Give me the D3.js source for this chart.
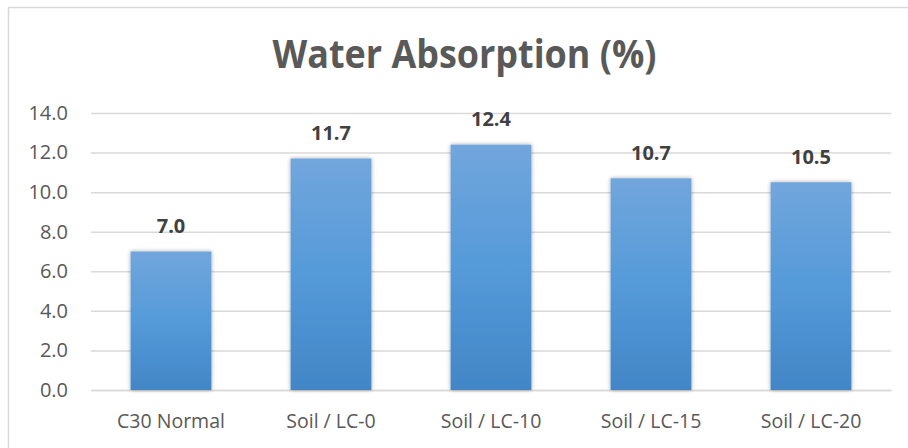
<!DOCTYPE html>
<html>
<head>
<meta charset="utf-8">
<script src="https://cdn.jsdelivr.net/npm/d3@7/dist/d3.min.js"></script>
<style>
  html, body { margin: 0; padding: 0; background: #fff; }
  svg { display: block; }
</style>
</head>
<body>
<svg id="chart" width="908" height="448"></svg>
<script>
// Water absorption by mix
const categories = ["C30 Normal", "Soil / LC-0", "Soil / LC-10", "Soil / LC-15", "Soil / LC-20"];
const absorption = [7.0, 11.7, 12.4, 10.7, 10.5];
const yTicks = [0, 2, 4, 6, 8, 10, 12, 14];
const chartTitle = "Water Absorption (%)";

const svg = d3.select("#chart");
const font = "'Open Sans', 'Noto Sans', sans-serif";

// Outer chart frame
svg.append("rect")
  .attr("x", 8.5).attr("y", 7.5)
  .attr("width", 920).attr("height", 460)
  .attr("fill", "#fff")
  .attr("stroke", "#d9d9d9").attr("stroke-width", 1.5);

const plot = { left: 91, right: 891, top: 113, bottom: 390 };

const x = d3.scaleBand()
  .domain(categories)
  .range([plot.left, plot.right])
  .paddingInner(0.495)
  .paddingOuter(0.2475);

const y = d3.scaleLinear()
  .domain([0, 14])
  .range([plot.bottom, plot.top]);

const defs = svg.append("defs");
const grad = defs.append("linearGradient")
  .attr("id", "barFill").attr("x1", 0).attr("y1", 0).attr("x2", 0).attr("y2", 1);
grad.append("stop").attr("offset", "0%").attr("stop-color", "#71a6dc");
grad.append("stop").attr("offset", "50%").attr("stop-color", "#559ad9");
grad.append("stop").attr("offset", "100%").attr("stop-color", "#4286c6");

const shadow = defs.append("filter").attr("id", "barShadow")
  .attr("x", "-20%").attr("y", "-10%").attr("width", "140%").attr("height", "120%");
shadow.append("feGaussianBlur").attr("in", "SourceAlpha").attr("stdDeviation", 2.2).attr("result", "blur");
shadow.append("feComponentTransfer").attr("in", "blur").attr("result", "soft")
  .append("feFuncA").attr("type", "linear").attr("slope", 0.35);
const merge = shadow.append("feMerge");
merge.append("feMergeNode").attr("in", "soft");
merge.append("feMergeNode").attr("in", "SourceGraphic");

// Gridlines and value axis
const yAxis = d3.axisLeft(y)
  .tickValues(yTicks)
  .tickSize(-(plot.right - plot.left))
  .tickPadding(23)
  .tickFormat(d3.format(".1f"));

const gy = svg.append("g")
  .attr("transform", `translate(${plot.left},0)`)
  .call(yAxis);
gy.select(".domain").remove();
gy.selectAll(".tick line")
  .attr("stroke", "#d9d9d9").attr("stroke-width", 1.5);
gy.selectAll(".tick text")
  .attr("fill", "#595959")
  .style("font-family", font)
  .style("font-size", "20px");

// Category axis
const xAxis = d3.axisBottom(x).tickSize(0).tickPadding(24);
const gx = svg.append("g")
  .attr("transform", `translate(0,${plot.bottom})`)
  .call(xAxis);
gx.select(".domain").attr("stroke", "#d9d9d9").attr("stroke-width", 1.5);
gx.selectAll(".tick text")
  .attr("fill", "#595959")
  .style("font-family", font)
  .style("font-size", "19.5px");

// Bars
svg.append("g").selectAll("rect")
  .data(categories)
  .join("rect")
  .attr("x", d => x(d))
  .attr("width", x.bandwidth())
  .attr("y", (d, i) => y(absorption[i]))
  .attr("height", (d, i) => y(0) - y(absorption[i]))
  .attr("fill", "url(#barFill)")
  .attr("filter", "url(#barShadow)");

// Value labels
svg.append("g").selectAll("text")
  .data(categories)
  .join("text")
  .attr("x", d => x(d) + x.bandwidth() / 2)
  .attr("y", (d, i) => y(absorption[i]) - 18.5)
  .attr("text-anchor", "middle")
  .attr("fill", "#404040")
  .style("font-family", font)
  .style("font-size", "20px")
  .style("font-weight", "bold")
  .text((d, i) => absorption[i].toFixed(1));

// Title
svg.append("text")
  .attr("x", 464.5)
  .attr("y", 68)
  .attr("text-anchor", "middle")
  .attr("fill", "#595959")
  .attr("textLength", 384)
  .attr("lengthAdjust", "spacingAndGlyphs")
  .style("font-family", font)
  .style("font-size", "38.5px")
  .style("font-weight", "bold")
  .text(chartTitle);
</script>
</body>
</html>
